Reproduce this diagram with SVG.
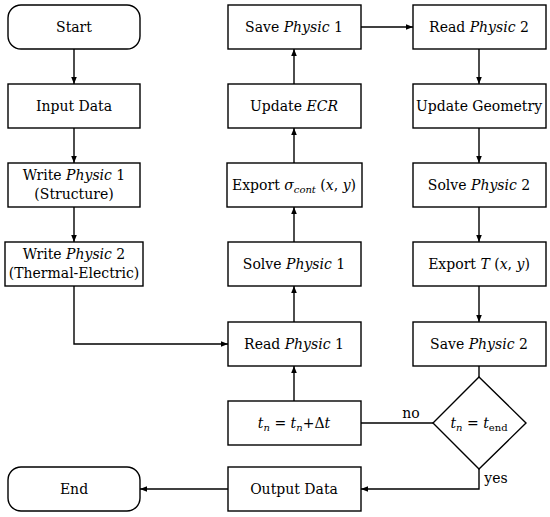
<svg xmlns="http://www.w3.org/2000/svg" width="550" height="517" viewBox="0 0 550 517">
<defs>
<marker id="ah" viewBox="0 0 10 10" refX="10" refY="5" markerWidth="7" markerHeight="7" markerUnits="userSpaceOnUse" orient="auto">
<path d="M0,1 L10,5 L0,9 z" fill="#000"/>
</marker>
<style>
rect, polygon { fill: #fff; stroke: #000; stroke-width: 1.4; }
text { font-family: "DejaVu Serif", "Liberation Serif", serif; font-size: 14px; text-anchor: middle; fill: #000; }
.i { font-style: italic; }
.s { font-size: 10px; }
#connectors path { fill: none; stroke: #000; stroke-width: 1.4; }
</style>
</defs>
<g id="connectors">
<path d="M74,49 V84" marker-end="url(#ah)"/>
<path d="M74,128 V163" marker-end="url(#ah)"/>
<path d="M74,207 V242" marker-end="url(#ah)"/>
<path d="M74,286 V344 H228" marker-end="url(#ah)"/>
<path d="M294,401 V366" marker-end="url(#ah)"/>
<path d="M294,322 V286" marker-end="url(#ah)"/>
<path d="M294,242 V207" marker-end="url(#ah)"/>
<path d="M294,163 V128" marker-end="url(#ah)"/>
<path d="M294,84 V49" marker-end="url(#ah)"/>
<path d="M361,27 H413" marker-end="url(#ah)"/>
<path d="M479,49 V84" marker-end="url(#ah)"/>
<path d="M479,128 V163" marker-end="url(#ah)"/>
<path d="M479,207 V242" marker-end="url(#ah)"/>
<path d="M479,286 V322" marker-end="url(#ah)"/>
<path d="M479,366 V377"/>
<path d="M433,423 H361"/>
<path d="M479,469 V489 H361" marker-end="url(#ah)"/>
<path d="M228,489 H140" marker-end="url(#ah)"/>
<text x="411" y="418">no</text>
<text x="496" y="483">yes</text>
</g>
<g id="start"><rect x="8" y="5" width="132" height="44" rx="13"/><text x="74" y="32">Start</text></g>
<g id="input"><rect x="8" y="84" width="132" height="44"/><text x="74" y="111">Input Data</text></g>
<g id="write1"><rect x="8" y="163" width="132" height="44"/><text x="74" y="180">Write <tspan class="i">Physic</tspan> 1</text><text x="74" y="199">(Structure)</text></g>
<g id="write2"><rect x="5" y="242" width="138" height="44"/><text x="74" y="259">Write <tspan class="i">Physic</tspan> 2</text><text x="74" y="278">(Thermal-Electric)</text></g>
<g id="end"><rect x="8" y="467" width="132" height="44" rx="13"/><text x="74" y="494">End</text></g>
<g id="save1"><rect x="228" y="5" width="133" height="44"/><text x="294" y="32">Save <tspan class="i">Physic</tspan> 1</text></g>
<g id="updateecr"><rect x="228" y="84" width="133" height="44"/><text x="294" y="111">Update <tspan class="i">ECR</tspan></text></g>
<g id="exportsigma"><rect x="227" y="163" width="135" height="44"/><text x="294" y="190">Export <tspan class="i">σ</tspan><tspan class="i s" dy="3">cont</tspan><tspan dy="-3"> (</tspan><tspan class="i">x</tspan>, <tspan class="i">y</tspan>)</text></g>
<g id="solve1"><rect x="228" y="242" width="133" height="44"/><text x="294" y="269">Solve <tspan class="i">Physic</tspan> 1</text></g>
<g id="read1"><rect x="228" y="322" width="133" height="44"/><text x="294" y="349">Read <tspan class="i">Physic</tspan> 1</text></g>
<g id="step"><rect x="228" y="401" width="133" height="44"/><text x="294" y="428"><tspan class="i">t</tspan><tspan class="i s" dy="3">n</tspan><tspan dy="-3"> = </tspan><tspan class="i">t</tspan><tspan class="i s" dy="3">n</tspan><tspan dy="-3">+Δ</tspan><tspan class="i">t</tspan></text></g>
<g id="output"><rect x="228" y="467" width="133" height="44"/><text x="294" y="494">Output Data</text></g>
<g id="read2"><rect x="413" y="5" width="133" height="44"/><text x="479" y="32">Read <tspan class="i">Physic</tspan> 2</text></g>
<g id="geometry"><rect x="413" y="84" width="133" height="44"/><text x="479" y="111">Update Geometry</text></g>
<g id="solve2"><rect x="413" y="163" width="133" height="44"/><text x="479" y="190">Solve <tspan class="i">Physic</tspan> 2</text></g>
<g id="exportT"><rect x="413" y="242" width="133" height="44"/><text x="479" y="269">Export <tspan class="i">T</tspan> (<tspan class="i">x</tspan>, <tspan class="i">y</tspan>)</text></g>
<g id="save2"><rect x="413" y="322" width="133" height="44"/><text x="479" y="349">Save <tspan class="i">Physic</tspan> 2</text></g>
<g id="decision"><polygon points="479,377 526,423 479,469 433,423"/><text x="479" y="428"><tspan class="i">t</tspan><tspan class="i s" dy="3">n</tspan><tspan dy="-3"> = </tspan><tspan class="i">t</tspan><tspan class="s" dy="3">end</tspan></text></g>
</svg>
